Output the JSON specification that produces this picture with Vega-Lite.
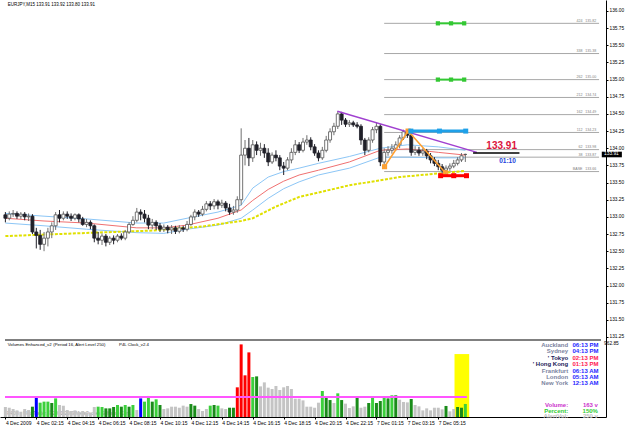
{
"$schema":"https://vega.github.io/schema/vega-lite/v6.json",
"autosize":{"type":"none"},
"padding":{"left":0,"top":0,"right":19,"bottom":12},
"background":"white",
"width":606,"height":417,
"config":{"font":"Liberation Sans","view":{"stroke":null},"axis":{"grid":false}},
"resolve":{"scale":{"y":"independent"},"axis":{"y":"independent","x":"independent"}},
"datasets":{
"bars":[
{"i":0,"o":133.03,"h":133.07,"l":132.92,"c":132.98,"v":125,"vc":"g"},
{"i":1,"o":132.98,"h":133.08,"l":132.95,"c":133.04,"v":116,"vc":"g"},
{"i":2,"o":133.04,"h":133.10,"l":133.00,"c":133.05,"v":100,"vc":"g"},
{"i":3,"o":133.05,"h":133.08,"l":132.97,"c":133.01,"v":83,"vc":"g"},
{"i":4,"o":133.01,"h":133.07,"l":132.97,"c":133.04,"v":66,"vc":"g"},
{"i":5,"o":133.04,"h":133.07,"l":132.95,"c":133.00,"v":100,"vc":"g"},
{"i":6,"o":133.00,"h":133.05,"l":132.94,"c":133.01,"v":87,"vc":"g"},
{"i":7,"o":133.01,"h":133.04,"l":132.75,"c":132.78,"v":129,"vc":"D"},
{"i":8,"o":132.78,"h":132.84,"l":132.54,"c":132.73,"v":242,"vc":"B"},
{"i":9,"o":132.73,"h":132.81,"l":132.52,"c":132.60,"v":179,"vc":"L"},
{"i":10,"o":132.60,"h":132.78,"l":132.50,"c":132.69,"v":192,"vc":"L"},
{"i":11,"o":132.69,"h":132.84,"l":132.57,"c":132.78,"v":192,"vc":"L"},
{"i":12,"o":132.78,"h":132.92,"l":132.69,"c":132.87,"v":175,"vc":"D"},
{"i":13,"o":132.87,"h":133.07,"l":132.81,"c":133.03,"v":233,"vc":"L"},
{"i":14,"o":133.03,"h":133.10,"l":132.92,"c":132.98,"v":150,"vc":"g"},
{"i":15,"o":132.98,"h":133.08,"l":132.95,"c":133.04,"v":142,"vc":"g"},
{"i":16,"o":133.04,"h":133.08,"l":132.97,"c":133.01,"v":87,"vc":"g"},
{"i":17,"o":133.01,"h":133.05,"l":132.94,"c":132.98,"v":75,"vc":"g"},
{"i":18,"o":132.98,"h":133.05,"l":132.95,"c":133.03,"v":83,"vc":"g"},
{"i":19,"o":133.03,"h":133.05,"l":132.92,"c":132.97,"v":66,"vc":"g"},
{"i":20,"o":132.97,"h":133.00,"l":132.87,"c":132.89,"v":75,"vc":"g"},
{"i":21,"o":132.89,"h":132.97,"l":132.85,"c":132.92,"v":58,"vc":"g"},
{"i":22,"o":132.92,"h":132.95,"l":132.82,"c":132.87,"v":50,"vc":"g"},
{"i":23,"o":132.87,"h":132.89,"l":132.63,"c":132.69,"v":125,"vc":"g"},
{"i":24,"o":132.69,"h":132.78,"l":132.60,"c":132.66,"v":129,"vc":"L"},
{"i":25,"o":132.66,"h":132.76,"l":132.59,"c":132.72,"v":125,"vc":"L"},
{"i":26,"o":132.72,"h":132.75,"l":132.57,"c":132.63,"v":108,"vc":"D"},
{"i":27,"o":132.63,"h":132.72,"l":132.59,"c":132.69,"v":108,"vc":"D"},
{"i":28,"o":132.69,"h":132.73,"l":132.60,"c":132.66,"v":125,"vc":"D"},
{"i":29,"o":132.66,"h":132.75,"l":132.63,"c":132.72,"v":150,"vc":"L"},
{"i":30,"o":132.72,"h":132.76,"l":132.66,"c":132.69,"v":129,"vc":"D"},
{"i":31,"o":132.69,"h":132.81,"l":132.66,"c":132.78,"v":150,"vc":"L"},
{"i":32,"o":132.78,"h":132.92,"l":132.75,"c":132.89,"v":129,"vc":"D"},
{"i":33,"o":132.89,"h":133.01,"l":132.87,"c":132.95,"v":150,"vc":"L"},
{"i":34,"o":132.95,"h":133.13,"l":132.92,"c":133.07,"v":87,"vc":"g"},
{"i":35,"o":133.07,"h":133.11,"l":132.95,"c":133.04,"v":233,"vc":"B"},
{"i":36,"o":133.04,"h":133.10,"l":132.92,"c":132.98,"v":192,"vc":"L"},
{"i":37,"o":132.98,"h":133.03,"l":132.82,"c":132.88,"v":263,"vc":"L"},
{"i":38,"o":132.88,"h":132.97,"l":132.82,"c":132.92,"v":192,"vc":"D"},
{"i":39,"o":132.92,"h":132.95,"l":132.81,"c":132.87,"v":221,"vc":"L"},
{"i":40,"o":132.87,"h":132.91,"l":132.78,"c":132.82,"v":150,"vc":"D"},
{"i":41,"o":132.82,"h":132.89,"l":132.78,"c":132.85,"v":100,"vc":"g"},
{"i":42,"o":132.85,"h":132.88,"l":132.76,"c":132.81,"v":108,"vc":"g"},
{"i":43,"o":132.81,"h":132.88,"l":132.75,"c":132.84,"v":129,"vc":"g"},
{"i":44,"o":132.84,"h":132.87,"l":132.75,"c":132.79,"v":129,"vc":"g"},
{"i":45,"o":132.79,"h":132.88,"l":132.76,"c":132.84,"v":116,"vc":"g"},
{"i":46,"o":132.84,"h":132.87,"l":132.78,"c":132.82,"v":142,"vc":"g"},
{"i":47,"o":132.82,"h":132.94,"l":132.79,"c":132.89,"v":129,"vc":"g"},
{"i":48,"o":132.89,"h":133.03,"l":132.87,"c":133.00,"v":162,"vc":"D"},
{"i":49,"o":133.00,"h":133.11,"l":132.95,"c":133.07,"v":142,"vc":"D"},
{"i":50,"o":133.07,"h":133.10,"l":133.00,"c":133.04,"v":100,"vc":"g"},
{"i":51,"o":133.04,"h":133.16,"l":133.01,"c":133.11,"v":75,"vc":"g"},
{"i":52,"o":133.11,"h":133.23,"l":133.08,"c":133.19,"v":100,"vc":"g"},
{"i":53,"o":133.19,"h":133.23,"l":133.10,"c":133.16,"v":142,"vc":"L"},
{"i":54,"o":133.16,"h":133.26,"l":133.11,"c":133.22,"v":150,"vc":"D"},
{"i":55,"o":133.22,"h":133.25,"l":133.11,"c":133.17,"v":142,"vc":"L"},
{"i":56,"o":133.17,"h":133.25,"l":133.13,"c":133.20,"v":108,"vc":"g"},
{"i":57,"o":133.20,"h":133.23,"l":133.08,"c":133.13,"v":100,"vc":"g"},
{"i":58,"o":133.13,"h":133.19,"l":133.03,"c":133.07,"v":116,"vc":"D"},
{"i":59,"o":133.07,"h":133.16,"l":133.03,"c":133.10,"v":116,"vc":"D"},
{"i":60,"o":133.10,"h":133.30,"l":133.06,"c":133.25,"v":371,"vc":"R"},
{"i":61,"o":133.25,"h":134.29,"l":133.17,"c":133.90,"v":908,"vc":"R"},
{"i":62,"o":133.90,"h":134.12,"l":133.75,"c":134.00,"v":521,"vc":"R"},
{"i":63,"o":134.00,"h":134.15,"l":133.74,"c":133.86,"v":808,"vc":"R"},
{"i":64,"o":133.86,"h":134.12,"l":133.80,"c":134.05,"v":500,"vc":"L"},
{"i":65,"o":134.05,"h":134.10,"l":133.90,"c":133.97,"v":508,"vc":"D"},
{"i":66,"o":133.97,"h":134.08,"l":133.89,"c":134.00,"v":383,"vc":"g"},
{"i":67,"o":134.00,"h":134.06,"l":133.86,"c":133.93,"v":433,"vc":"g"},
{"i":68,"o":133.93,"h":134.00,"l":133.74,"c":133.80,"v":367,"vc":"g"},
{"i":69,"o":133.80,"h":133.94,"l":133.77,"c":133.90,"v":350,"vc":"g"},
{"i":70,"o":133.90,"h":133.97,"l":133.81,"c":133.86,"v":388,"vc":"g"},
{"i":71,"o":133.86,"h":133.90,"l":133.68,"c":133.74,"v":338,"vc":"g"},
{"i":72,"o":133.74,"h":133.80,"l":133.61,"c":133.71,"v":371,"vc":"g"},
{"i":73,"o":133.71,"h":133.87,"l":133.68,"c":133.83,"v":388,"vc":"g"},
{"i":74,"o":133.83,"h":134.00,"l":133.78,"c":133.94,"v":350,"vc":"g"},
{"i":75,"o":133.94,"h":134.12,"l":133.90,"c":134.05,"v":229,"vc":"g"},
{"i":76,"o":134.05,"h":134.09,"l":133.93,"c":133.97,"v":229,"vc":"g"},
{"i":77,"o":133.97,"h":134.15,"l":133.94,"c":134.09,"v":208,"vc":"g"},
{"i":78,"o":134.09,"h":134.19,"l":134.05,"c":134.12,"v":129,"vc":"g"},
{"i":79,"o":134.12,"h":134.16,"l":133.97,"c":134.02,"v":129,"vc":"g"},
{"i":80,"o":134.02,"h":134.06,"l":133.89,"c":133.93,"v":116,"vc":"g"},
{"i":81,"o":133.93,"h":133.97,"l":133.81,"c":133.86,"v":179,"vc":"g"},
{"i":82,"o":133.86,"h":134.02,"l":133.83,"c":133.97,"v":325,"vc":"L"},
{"i":83,"o":133.97,"h":134.18,"l":133.94,"c":134.12,"v":242,"vc":"D"},
{"i":84,"o":134.12,"h":134.29,"l":134.08,"c":134.24,"v":212,"vc":"D"},
{"i":85,"o":134.24,"h":134.37,"l":134.19,"c":134.32,"v":175,"vc":"g"},
{"i":86,"o":134.32,"h":134.54,"l":134.28,"c":134.50,"v":296,"vc":"L"},
{"i":87,"o":134.50,"h":134.53,"l":134.34,"c":134.41,"v":212,"vc":"D"},
{"i":88,"o":134.41,"h":134.44,"l":134.31,"c":134.35,"v":167,"vc":"g"},
{"i":89,"o":134.35,"h":134.41,"l":134.31,"c":134.37,"v":112,"vc":"g"},
{"i":90,"o":134.37,"h":134.40,"l":134.31,"c":134.34,"v":133,"vc":"g"},
{"i":91,"o":134.34,"h":134.38,"l":134.29,"c":134.32,"v":250,"vc":"D"},
{"i":92,"o":134.32,"h":134.35,"l":134.05,"c":134.12,"v":116,"vc":"g"},
{"i":93,"o":134.12,"h":134.15,"l":133.90,"c":133.97,"v":129,"vc":"g"},
{"i":94,"o":133.97,"h":134.16,"l":133.94,"c":134.12,"v":175,"vc":"D"},
{"i":95,"o":134.12,"h":134.31,"l":134.08,"c":134.27,"v":246,"vc":"L"},
{"i":96,"o":134.27,"h":134.38,"l":134.22,"c":134.32,"v":175,"vc":"D"},
{"i":97,"o":134.32,"h":134.35,"l":133.74,"c":133.80,"v":200,"vc":"D"},
{"i":98,"o":133.80,"h":134.00,"l":133.71,"c":133.94,"v":238,"vc":"L"},
{"i":99,"o":133.94,"h":134.03,"l":133.89,"c":133.97,"v":233,"vc":"D"},
{"i":100,"o":133.97,"h":134.06,"l":133.92,"c":134.00,"v":271,"vc":"L"},
{"i":101,"o":134.00,"h":134.10,"l":133.96,"c":134.05,"v":271,"vc":"D"},
{"i":102,"o":134.05,"h":134.19,"l":134.00,"c":134.15,"v":217,"vc":"g"},
{"i":103,"o":134.15,"h":134.27,"l":134.12,"c":134.24,"v":188,"vc":"g"},
{"i":104,"o":134.24,"h":134.28,"l":134.15,"c":134.19,"v":183,"vc":"g"},
{"i":105,"o":134.19,"h":134.22,"l":133.89,"c":133.94,"v":225,"vc":"D"},
{"i":106,"o":133.94,"h":134.03,"l":133.90,"c":133.97,"v":150,"vc":"g"},
{"i":107,"o":133.97,"h":134.02,"l":133.89,"c":133.93,"v":133,"vc":"g"},
{"i":108,"o":133.93,"h":134.00,"l":133.89,"c":133.96,"v":83,"vc":"g"},
{"i":109,"o":133.96,"h":133.99,"l":133.84,"c":133.89,"v":108,"vc":"g"},
{"i":110,"o":133.89,"h":133.93,"l":133.78,"c":133.83,"v":83,"vc":"g"},
{"i":111,"o":133.83,"h":133.87,"l":133.74,"c":133.78,"v":116,"vc":"g"},
{"i":112,"o":133.78,"h":133.83,"l":133.68,"c":133.73,"v":116,"vc":"g"},
{"i":113,"o":133.73,"h":133.77,"l":133.64,"c":133.68,"v":96,"vc":"g"},
{"i":114,"o":133.68,"h":133.75,"l":133.62,"c":133.71,"v":138,"vc":"D"},
{"i":115,"o":133.71,"h":133.78,"l":133.67,"c":133.74,"v":71,"vc":"g"},
{"i":116,"o":133.74,"h":133.83,"l":133.71,"c":133.78,"v":100,"vc":"g"},
{"i":117,"o":133.78,"h":133.87,"l":133.75,"c":133.83,"v":125,"vc":"D"},
{"i":118,"o":133.83,"h":133.93,"l":133.80,"c":133.89,"v":116,"vc":"D"},
{"i":119,"o":133.91,"h":133.92,"l":133.80,"c":133.91,"v":163,"vc":"L"}
],
"ma":[
{"s":"up","i":0,"p":133.05},{"s":"up","i":10,"p":133.01},{"s":"up","i":21,"p":132.97},{"s":"up","i":34,"p":132.91},{"s":"up","i":41,"p":132.91},{"s":"up","i":47,"p":132.98},{"s":"up","i":55,"p":133.07},{"s":"up","i":61,"p":133.17},{"s":"up","i":64,"p":133.42},{"s":"up","i":68,"p":133.58},{"s":"up","i":72,"p":133.66},{"s":"up","i":76,"p":133.71},{"s":"up","i":81,"p":133.78},{"s":"up","i":89,"p":133.88},{"s":"up","i":97,"p":134.00},{"s":"up","i":104,"p":134.05},{"s":"up","i":112,"p":134.02},{"s":"up","i":119,"p":133.97},
{"s":"mid","i":0,"p":132.98},{"s":"mid","i":10,"p":132.94},{"s":"mid","i":21,"p":132.91},{"s":"mid","i":34,"p":132.84},{"s":"mid","i":41,"p":132.84},{"s":"mid","i":47,"p":132.88},{"s":"mid","i":55,"p":132.98},{"s":"mid","i":61,"p":133.10},{"s":"mid","i":64,"p":133.24},{"s":"mid","i":68,"p":133.40},{"s":"mid","i":72,"p":133.52},{"s":"mid","i":76,"p":133.61},{"s":"mid","i":81,"p":133.68},{"s":"mid","i":89,"p":133.80},{"s":"mid","i":97,"p":133.97},{"s":"mid","i":104,"p":133.99},{"s":"mid","i":112,"p":133.94},{"s":"mid","i":119,"p":133.90},
{"s":"lo","i":0,"p":132.91},{"s":"lo","i":10,"p":132.87},{"s":"lo","i":21,"p":132.82},{"s":"lo","i":34,"p":132.77},{"s":"lo","i":41,"p":132.76},{"s":"lo","i":47,"p":132.82},{"s":"lo","i":55,"p":132.88},{"s":"lo","i":61,"p":132.98},{"s":"lo","i":64,"p":133.10},{"s":"lo","i":68,"p":133.27},{"s":"lo","i":72,"p":133.41},{"s":"lo","i":76,"p":133.51},{"s":"lo","i":81,"p":133.61},{"s":"lo","i":89,"p":133.71},{"s":"lo","i":97,"p":133.87},{"s":"lo","i":104,"p":133.87},{"s":"lo","i":112,"p":133.86},{"s":"lo","i":119,"p":133.86},
{"s":"slow","i":0,"p":132.72},{"s":"slow","i":23,"p":132.77},{"s":"slow","i":38,"p":132.80},{"s":"slow","i":51,"p":132.86},{"s":"slow","i":61,"p":132.94},{"s":"slow","i":64,"p":132.98},{"s":"slow","i":70,"p":133.15},{"s":"slow","i":76,"p":133.29},{"s":"slow","i":89,"p":133.46},{"s":"slow","i":102,"p":133.58},{"s":"slow","i":119,"p":133.67}
],
"fib":[
{"lv":"424","p":135.82},{"lv":"338","p":135.38},{"lv":"262","p":135.00},{"lv":"212","p":134.74},{"lv":"162","p":134.49},{"lv":"112","p":134.23},{"lv":"62","p":133.98},{"lv":"38","p":133.87},{"lv":"BASE","p":133.66}
],
"seg":[
{"g":"trend","i":85.9,"p":134.54},{"g":"trend","i":122.0,"p":133.94},
{"g":"zig","i":98.1,"p":133.73},{"g":"zig","i":104.2,"p":134.25},{"g":"zig","i":113.9,"p":133.64},
{"g":"g1","i":111.9,"p":135.82},{"g":"g1","i":115.3,"p":135.82},{"g":"g1","i":118.7,"p":135.82},
{"g":"g2","i":111.9,"p":135.00},{"g":"g2","i":115.3,"p":135.00},{"g":"g2","i":118.7,"p":135.00},
{"g":"blue","i":104.9,"p":134.25},{"g":"blue","i":112.3,"p":134.25},{"g":"blue","i":119.1,"p":134.25},
{"g":"red","i":112.6,"p":133.60},{"g":"red","i":116.0,"p":133.60},{"g":"red","i":119.3,"p":133.60},
{"g":"cur","i":121.0,"p":133.93},{"g":"cur","i":133.0,"p":133.93}
],
"clock":[
{"city":"Auckland","time":"06:13 PM","open":false},
{"city":"Sydney","time":"04:13 PM","open":false},
{"city":"' Tokyo","time":"02:13 PM","open":true},
{"city":"' Hong Kong","time":"01:13 PM","open":true},
{"city":"Frankfurt","time":"06:13 AM","open":false},
{"city":"London","time":"05:13 AM","open":false},
{"city":"New York","time":"12:13 AM","open":false}
]
},
"layer":[
{"data":{"name":"fib"},"mark":{"type":"rule","color":"#a8a8a8","strokeWidth":1},
 "encoding":{"x":{"datum":98,"type":"quantitative","scale":{"domain":[-0.1,154.1],"nice":false,"zero":false},
 "axis":{"orient":"bottom","values":[0,8,16,24,32,40,48,56,64,72,80,88,96,104,112],"labelExpr":"datum.value == 0 ? '4 Dec 2009' : datum.value == 8 ? '4 Dec 02:15' : datum.value == 16 ? '4 Dec 04:15' : datum.value == 24 ? '4 Dec 06:15' : datum.value == 32 ? '4 Dec 08:15' : datum.value == 40 ? '4 Dec 10:15' : datum.value == 48 ? '4 Dec 12:15' : datum.value == 56 ? '4 Dec 14:15' : datum.value == 64 ? '4 Dec 16:15' : datum.value == 72 ? '4 Dec 18:15' : datum.value == 80 ? '4 Dec 20:15' : datum.value == 88 ? '4 Dec 22:15' : datum.value == 96 ? '7 Dec 01:15' : datum.value == 104 ? '7 Dec 03:15' : '7 Dec 05:15'","labelAlign":"left","labelFontSize":5,"tickSize":2,"labelPadding":1,"domainColor":"#000","tickColor":"#000","labelColor":"#000","title":null,"labelFlush":false,"labelOverlap":false}},"x2":{"datum":153.6},
 "y":{"field":"p","type":"quantitative","scale":{"domain":[130.084,136.16],"nice":false,"zero":false},
 "axis":{"orient":"right","values":[131.25,131.5,131.75,132,132.25,132.5,132.75,133,133.25,133.5,133.75,134,134.25,134.5,134.75,135,135.25,135.5,135.75,136],"format":".2f","labelFontSize":4.8,"tickSize":2,"labelPadding":1,"domainColor":"#000","tickColor":"#000","labelColor":"#000","title":null,"labelOverlap":false,"labelFlush":false}}}},
{"data":{"name":"fib"},"mark":{"type":"text","align":"right","baseline":"bottom","fontSize":3.6,"color":"#808080","dy":-0.3},
 "encoding":{"x":{"datum":149.3,"type":"quantitative","scale":{"domain":[-0.1,154.1],"nice":false,"zero":false},"axis":null},
 "y":{"field":"p","type":"quantitative","scale":{"domain":[130.084,136.16],"nice":false,"zero":false},"axis":null},"text":{"field":"lv"}}},
{"data":{"name":"fib"},"mark":{"type":"text","align":"right","baseline":"bottom","fontSize":3.6,"color":"#808080","dy":-0.3},
 "encoding":{"x":{"datum":152.9,"type":"quantitative","scale":{"domain":[-0.1,154.1],"nice":false,"zero":false},"axis":null},
 "y":{"field":"p","type":"quantitative","scale":{"domain":[130.084,136.16],"nice":false,"zero":false},"axis":null},"text":{"field":"p","type":"quantitative","format":".2f"}}},
{"data":{"name":"ma"},"transform":[{"filter":"datum.s==='up' || datum.s==='lo'"}],"mark":{"type":"line","color":"#8cc6f6","strokeWidth":1},
 "encoding":{"x":{"field":"i","type":"quantitative","scale":{"domain":[-0.1,154.1],"nice":false,"zero":false},"axis":null},
 "y":{"field":"p","type":"quantitative","scale":{"domain":[130.084,136.16],"nice":false,"zero":false},"axis":null},"detail":{"field":"s"}}},
{"data":{"name":"ma"},"transform":[{"filter":"datum.s==='mid'"}],"mark":{"type":"line","color":"#f07070","strokeWidth":1},
 "encoding":{"x":{"field":"i","type":"quantitative","scale":{"domain":[-0.1,154.1],"nice":false,"zero":false},"axis":null},
 "y":{"field":"p","type":"quantitative","scale":{"domain":[130.084,136.16],"nice":false,"zero":false},"axis":null}}},
{"data":{"name":"ma"},"transform":[{"filter":"datum.s==='slow'"}],"mark":{"type":"line","color":"#e0e000","strokeWidth":2,"strokeDash":[3,1.5]},
 "encoding":{"x":{"field":"i","type":"quantitative","scale":{"domain":[-0.1,154.1],"nice":false,"zero":false},"axis":null},
 "y":{"field":"p","type":"quantitative","scale":{"domain":[130.084,136.16],"nice":false,"zero":false},"axis":null}}},
{"data":{"name":"bars"},"mark":{"type":"rule","strokeWidth":1},
 "encoding":{"x":{"field":"i","type":"quantitative","scale":{"domain":[-0.1,154.1],"nice":false,"zero":false},"axis":null},
 "y":{"field":"l","type":"quantitative","scale":{"domain":[130.084,136.16],"nice":false,"zero":false},"axis":null},"y2":{"field":"h"},
 "color":{"condition":{"test":"datum.c >= datum.o","value":"#707070"},"value":"#202028"}}},
{"data":{"name":"bars"},"mark":{"type":"bar","size":3,"strokeWidth":0.8,"orient":"vertical"},
 "encoding":{"x":{"field":"i","type":"quantitative","scale":{"domain":[-0.1,154.1],"nice":false,"zero":false},"axis":null},
 "y":{"field":"o","type":"quantitative","scale":{"domain":[130.084,136.16],"nice":false,"zero":false},"axis":null},"y2":{"field":"c"},
 "fill":{"condition":{"test":"datum.c >= datum.o","value":"#ffffff"},"value":"#202028"},
 "stroke":{"condition":{"test":"datum.c >= datum.o","value":"#505050"},"value":"#202028"}}},
{"data":{"name":"seg"},"transform":[{"filter":"datum.g==='trend'"}],"mark":{"type":"line","color":"#a040d0","strokeWidth":1.5},
 "encoding":{"x":{"field":"i","type":"quantitative","scale":{"domain":[-0.1,154.1],"nice":false,"zero":false},"axis":null},
 "y":{"field":"p","type":"quantitative","scale":{"domain":[130.084,136.16],"nice":false,"zero":false},"axis":null}}},
{"data":{"name":"seg"},"transform":[{"filter":"datum.g==='zig'"}],"mark":{"type":"line","color":"#ffa030","strokeWidth":1.5,"point":{"shape":"square","filled":false,"size":10,"color":"#ffa030"}},
 "encoding":{"x":{"field":"i","type":"quantitative","scale":{"domain":[-0.1,154.1],"nice":false,"zero":false},"axis":null},
 "y":{"field":"p","type":"quantitative","scale":{"domain":[130.084,136.16],"nice":false,"zero":false},"axis":null}}},
{"data":{"name":"seg"},"transform":[{"filter":"datum.g==='g1' || datum.g==='g2'"}],"mark":{"type":"line","color":"#33c833","strokeWidth":2,"point":{"shape":"square","filled":true,"size":18,"color":"#33c833","opacity":1}},
 "encoding":{"x":{"field":"i","type":"quantitative","scale":{"domain":[-0.1,154.1],"nice":false,"zero":false},"axis":null},
 "y":{"field":"p","type":"quantitative","scale":{"domain":[130.084,136.16],"nice":false,"zero":false},"axis":null},"detail":{"field":"g"}}},
{"data":{"name":"seg"},"transform":[{"filter":"datum.g==='blue'"}],"mark":{"type":"line","color":"#1ea0e8","strokeWidth":3,"point":{"shape":"square","filled":true,"size":25,"color":"#1ea0e8","opacity":1}},
 "encoding":{"x":{"field":"i","type":"quantitative","scale":{"domain":[-0.1,154.1],"nice":false,"zero":false},"axis":null},
 "y":{"field":"p","type":"quantitative","scale":{"domain":[130.084,136.16],"nice":false,"zero":false},"axis":null}}},
{"data":{"name":"seg"},"transform":[{"filter":"datum.g==='red'"}],"mark":{"type":"line","color":"#ff0000","strokeWidth":3,"point":{"shape":"square","filled":true,"size":25,"color":"#ff0000","opacity":1}},
 "encoding":{"x":{"field":"i","type":"quantitative","scale":{"domain":[-0.1,154.1],"nice":false,"zero":false},"axis":null},
 "y":{"field":"p","type":"quantitative","scale":{"domain":[130.084,136.16],"nice":false,"zero":false},"axis":null}}},
{"data":{"name":"seg"},"transform":[{"filter":"datum.g==='cur'"}],"mark":{"type":"line","color":"#000000","strokeWidth":1.5},
 "encoding":{"x":{"field":"i","type":"quantitative","scale":{"domain":[-0.1,154.1],"nice":false,"zero":false},"axis":null},
 "y":{"field":"p","type":"quantitative","scale":{"domain":[130.084,136.16],"nice":false,"zero":false},"axis":null}}},
{"data":{"values":[{}]},"mark":{"type":"text","fontSize":10,"fontWeight":"bold","color":"#dc143c","align":"center","baseline":"middle"},
 "encoding":{"x":{"datum":128.4,"type":"quantitative","scale":{"domain":[-0.1,154.1],"nice":false,"zero":false},"axis":null},
 "y":{"datum":134.035,"type":"quantitative","scale":{"domain":[130.084,136.16],"nice":false,"zero":false},"axis":null},"text":{"value":"133.91"}}},
{"data":{"values":[{}]},"mark":{"type":"text","fontSize":6.5,"fontWeight":"bold","color":"#2244dd","align":"center","baseline":"middle"},
 "encoding":{"x":{"datum":129.9,"type":"quantitative","scale":{"domain":[-0.1,154.1],"nice":false,"zero":false},"axis":null},
 "y":{"datum":133.817,"type":"quantitative","scale":{"domain":[130.084,136.16],"nice":false,"zero":false},"axis":null},"text":{"value":"01:10"}}},
{"data":{"values":[{}]},"mark":{"type":"text","fontSize":4.5,"color":"#000000","align":"left","baseline":"middle"},
 "encoding":{"x":{"datum":0.6,"type":"quantitative","scale":{"domain":[-0.1,154.1],"nice":false,"zero":false},"axis":null},
 "y":{"datum":136.087,"type":"quantitative","scale":{"domain":[130.084,136.16],"nice":false,"zero":false},"axis":null},"text":{"value":"EURJPY,M15  133.91 133.92 133.80 133.91"}}},
{"data":{"values":[{}]},"mark":{"type":"rect","color":"#000000"},
 "encoding":{"x":{"datum":154.3,"type":"quantitative","scale":{"domain":[-0.1,154.1],"nice":false,"zero":false},"axis":null},"x2":{"datum":159.5},
 "y":{"datum":133.95,"type":"quantitative","scale":{"domain":[130.084,136.16],"nice":false,"zero":false},"axis":null},"y2":{"datum":133.868}}},
{"data":{"values":[{}]},"mark":{"type":"text","fontSize":4.8,"color":"#ffffff","align":"left","baseline":"middle"},
 "encoding":{"x":{"datum":154.9,"type":"quantitative","scale":{"domain":[-0.1,154.1],"nice":false,"zero":false},"axis":null},
 "y":{"datum":133.909,"type":"quantitative","scale":{"domain":[130.084,136.16],"nice":false,"zero":false},"axis":null},"text":{"value":"133.91"}}},
{"data":{"values":[{}]},"mark":{"type":"rect","color":"#ffff00"},
 "encoding":{"x":{"datum":116.2,"type":"quantitative","scale":{"domain":[-0.1,154.1],"nice":false,"zero":false},"axis":null},"x2":{"datum":120.0},
 "y":{"datum":0,"type":"quantitative","scale":{"domain":[0,5214.4],"nice":false,"zero":false},"axis":null},"y2":{"datum":787}}},
{"data":{"values":[{}]},"mark":{"type":"text","fontSize":4.5,"color":"#909090","align":"left","baseline":"middle"},
 "encoding":{"x":{"datum":0.4,"type":"quantitative","scale":{"domain":[-0.1,154.1],"nice":false,"zero":false},"axis":null},
 "y":{"datum":37,"type":"quantitative","scale":{"domain":[0,5214.4],"nice":false,"zero":false},"axis":null},"text":{"value":"P4DD - MetaTrader, © 2001-2009 MetaQuotes Software Corp."}}},
{"data":{"name":"bars"},"mark":{"type":"bar","size":3,"orient":"vertical"},
 "encoding":{"x":{"field":"i","type":"quantitative","scale":{"domain":[-0.1,154.1],"nice":false,"zero":false},"axis":null},
 "y":{"field":"v","type":"quantitative","scale":{"domain":[0,5214.4],"nice":false,"zero":false},"axis":null},
 "color":{"field":"vc","type":"nominal","scale":{"domain":["g","L","D","B","R"],"range":["#c4c4c4","#3cd03c","#1a8c1a","#0000ff","#ff0000"]},"legend":null}}},
{"data":{"values":[{}]},"mark":{"type":"rule","color":"#ff55ff","strokeWidth":2},
 "encoding":{"x":{"datum":-0.1,"type":"quantitative","scale":{"domain":[-0.1,154.1],"nice":false,"zero":false},"axis":null},"x2":{"datum":119.4},
 "y":{"datum":250,"type":"quantitative","scale":{"domain":[0,5214.4],"nice":false,"zero":false},"axis":null}}},
{"data":{"values":[{}]},"mark":{"type":"rule","color":"#808080","strokeWidth":2},
 "encoding":{"x":{"datum":-0.1,"type":"quantitative","scale":{"domain":[-0.1,154.1],"nice":false,"zero":false},"axis":null},"x2":{"datum":154.1},
 "y":{"datum":962.85,"type":"quantitative","scale":{"domain":[0,5214.4],"nice":false,"zero":false},"axis":null}}},
{"data":{"values":[{}]},"mark":{"type":"text","fontSize":4.8,"color":"#000000","align":"left","baseline":"top","dy":1},
 "encoding":{"x":{"datum":154.9,"type":"quantitative","scale":{"domain":[-0.1,154.1],"nice":false,"zero":false},"axis":null},
 "y":{"datum":962.85,"type":"quantitative","scale":{"domain":[0,5214.4],"nice":false,"zero":false},"axis":null},"text":{"value":"962.85"}}},
{"data":{"values":[{}]},"mark":{"type":"text","fontSize":4.3,"color":"#000000","align":"left","baseline":"middle"},
 "encoding":{"x":{"datum":0.6,"type":"quantitative","scale":{"domain":[-0.1,154.1],"nice":false,"zero":false},"axis":null},
 "y":{"datum":900,"type":"quantitative","scale":{"domain":[0,5214.4],"nice":false,"zero":false},"axis":null},"text":{"value":"Volumes Enhanced_v2"}}},
{"data":{"values":[{}]},"mark":{"type":"text","fontSize":4.3,"color":"#000000","align":"left","baseline":"middle"},
 "encoding":{"x":{"datum":12.4,"type":"quantitative","scale":{"domain":[-0.1,154.1],"nice":false,"zero":false},"axis":null},
 "y":{"datum":900,"type":"quantitative","scale":{"domain":[0,5214.4],"nice":false,"zero":false},"axis":null},"text":{"value":"(Period 16, Alert Level 250)"}}},
{"data":{"values":[{}]},"mark":{"type":"text","fontSize":4.3,"color":"#000000","align":"left","baseline":"middle"},
 "encoding":{"x":{"datum":29.4,"type":"quantitative","scale":{"domain":[-0.1,154.1],"nice":false,"zero":false},"axis":null},
 "y":{"datum":900,"type":"quantitative","scale":{"domain":[0,5214.4],"nice":false,"zero":false},"axis":null},"text":{"value":"P4L Clock_v2.4"}}},
{"data":{"name":"clock"},"mark":{"type":"text","fontSize":6,"fontWeight":"bold","align":"right","baseline":"middle"},
 "encoding":{"x":{"datum":145.6,"type":"quantitative","scale":{"domain":[-0.1,154.1],"nice":false,"zero":false},"axis":null},
 "y":{"field":"city","type":"nominal","sort":null,"scale":{"type":"point","domain":["Auckland","Sydney","' Tokyo","' Hong Kong","Frankfurt","London","New York"],"range":[345,383.4],"padding":0},"axis":null},
 "text":{"field":"city"},
 "color":{"condition":{"test":"datum.open","value":"#1a1a5a"},"value":"#7c84a0"}}},
{"data":{"name":"clock"},"mark":{"type":"text","fontSize":6,"fontWeight":"bold","align":"left","baseline":"middle"},
 "encoding":{"x":{"datum":146.7,"type":"quantitative","scale":{"domain":[-0.1,154.1],"nice":false,"zero":false},"axis":null},
 "y":{"field":"city","type":"nominal","sort":null,"scale":{"type":"point","domain":["Auckland","Sydney","' Tokyo","' Hong Kong","Frankfurt","London","New York"],"range":[345,383.4],"padding":0},"axis":null},
 "text":{"field":"time"},
 "color":{"condition":{"test":"datum.open","value":"#ff2050"},"value":"#1f1fff"}}},
{"data":{"values":[{}]},"mark":{"type":"text","fontSize":6,"fontWeight":"bold","color":"#cc33cc","align":"right","baseline":"middle"},
 "encoding":{"x":{"datum":145.6,"type":"quantitative","scale":{"domain":[-0.1,154.1],"nice":false,"zero":false},"axis":null},
 "y":{"datum":150,"type":"quantitative","scale":{"domain":[0,5214.4],"nice":false,"zero":false},"axis":null},"text":{"value":"Volume:"}}},
{"data":{"values":[{}]},"mark":{"type":"text","fontSize":6,"fontWeight":"bold","color":"#cc33cc","align":"right","baseline":"middle"},
 "encoding":{"x":{"datum":153.3,"type":"quantitative","scale":{"domain":[-0.1,154.1],"nice":false,"zero":false},"axis":null},
 "y":{"datum":150,"type":"quantitative","scale":{"domain":[0,5214.4],"nice":false,"zero":false},"axis":null},"text":{"value":"163 v"}}},
{"data":{"values":[{}]},"mark":{"type":"text","fontSize":6,"fontWeight":"bold","color":"#33cc33","align":"right","baseline":"middle"},
 "encoding":{"x":{"datum":145.6,"type":"quantitative","scale":{"domain":[-0.1,154.1],"nice":false,"zero":false},"axis":null},
 "y":{"datum":79,"type":"quantitative","scale":{"domain":[0,5214.4],"nice":false,"zero":false},"axis":null},"text":{"value":"Percent:"}}},
{"data":{"values":[{}]},"mark":{"type":"text","fontSize":6,"fontWeight":"bold","color":"#33cc33","align":"right","baseline":"middle"},
 "encoding":{"x":{"datum":153.3,"type":"quantitative","scale":{"domain":[-0.1,154.1],"nice":false,"zero":false},"axis":null},
 "y":{"datum":79,"type":"quantitative","scale":{"domain":[0,5214.4],"nice":false,"zero":false},"axis":null},"text":{"value":"150%"}}},
{"data":{"values":[{}]},"mark":{"type":"text","fontSize":6,"fontWeight":"bold","color":"#c0c0c0","align":"right","baseline":"middle"},
 "encoding":{"x":{"datum":145.6,"type":"quantitative","scale":{"domain":[-0.1,154.1],"nice":false,"zero":false},"axis":null},
 "y":{"datum":13,"type":"quantitative","scale":{"domain":[0,5214.4],"nice":false,"zero":false},"axis":null},"text":{"value":"AlertVol:"}}},
{"data":{"values":[{}]},"mark":{"type":"text","fontSize":6,"fontWeight":"bold","color":"#c0c0c0","align":"right","baseline":"middle"},
 "encoding":{"x":{"datum":153.3,"type":"quantitative","scale":{"domain":[-0.1,154.1],"nice":false,"zero":false},"axis":null},
 "y":{"datum":13,"type":"quantitative","scale":{"domain":[0,5214.4],"nice":false,"zero":false},"axis":null},"text":{"value":"250 v"}}}
]
}
